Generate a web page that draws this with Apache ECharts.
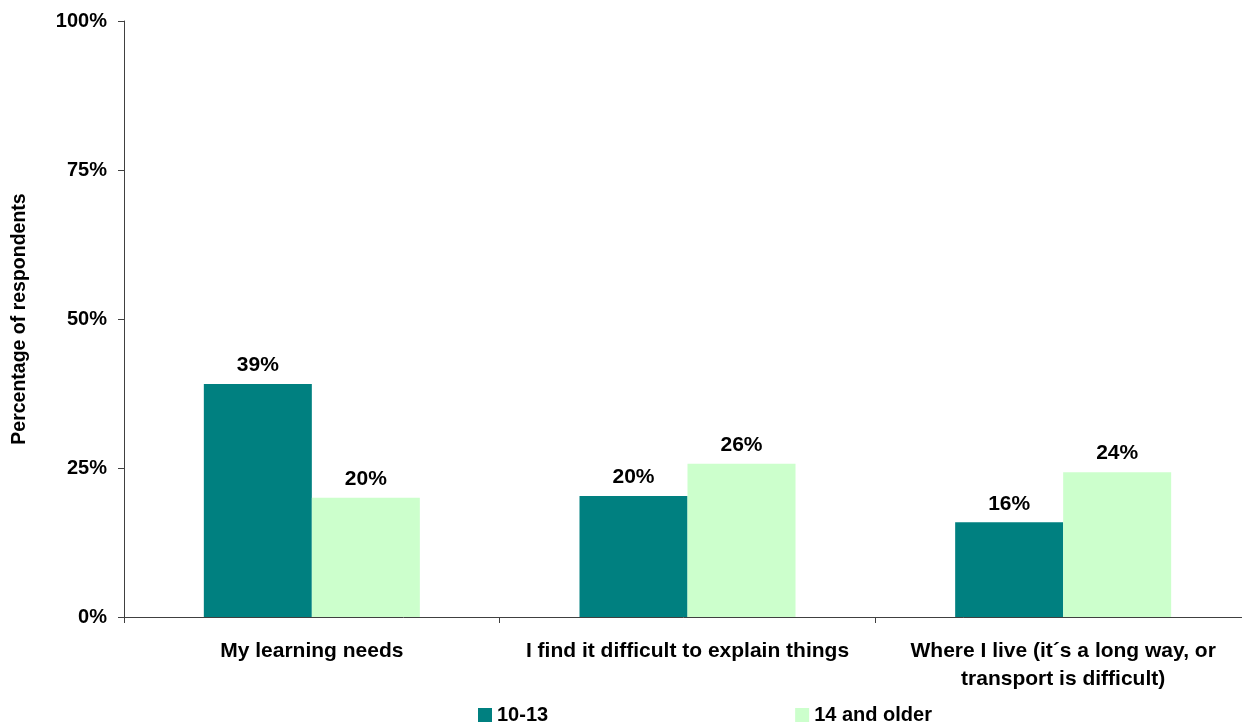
<!DOCTYPE html>
<html>
<head>
<meta charset="utf-8">
<title>Barriers by age group</title>
<script src="https://cdn.jsdelivr.net/npm/echarts@6/dist/echarts.min.js"></script>
<style>
  html, body { margin: 0; padding: 0; background: #fff; }
  #chart { width: 1242px; height: 722px; }
</style>
</head>
<body>
<div id="chart"></div>
<script>
// Survey responses by age group
const categories = [
  'My learning needs',
  'I find it difficult to explain things',
  'Where I live (it\u00b4s a long way, or\ntransport is difficult)'
];
const seriesNames = ['10-13', '14 and older'];
const valuesYoung = [39.1, 20.3, 15.9];
const valuesOlder = [20.0, 25.7, 24.3];
const yTicks = [0, 25, 50, 75, 100];

const FONT = 'Arial, "Liberation Sans", sans-serif';
const AXIS_COLOR = '#404040';

const labelStyle = {
  show: true,
  position: 'top',
  distance: 8,
  color: '#000',
  fontFamily: FONT,
  fontWeight: 'bold',
  fontSize: 21,
  formatter: p => Math.round(p.value) + '%'
};

const chart = echarts.init(document.getElementById('chart'), null, { renderer: 'canvas' });
chart.setOption({
  animation: false,
  backgroundColor: '#fff',
  grid: {
    left: 124,
    top: 21,
    width: 1127,
    height: 596,
    containLabel: false,
    outerBoundsMode: 'none'
  },
  legend: {
    data: seriesNames,
    left: 473,
    top: 698,
    icon: 'rect',
    itemWidth: 14,
    itemHeight: 14,
    itemGap: 247,
    textStyle: {
      color: '#000',
      fontFamily: FONT,
      fontWeight: 'bold',
      fontSize: 20,
      lineHeight: 24
    }
  },
  xAxis: {
    type: 'category',
    data: categories,
    axisLine: { lineStyle: { color: AXIS_COLOR, width: 1 } },
    axisTick: { show: true, length: 6, lineStyle: { color: AXIS_COLOR } },
    axisLabel: {
      interval: 0,
      margin: 20,
      color: '#000',
      fontFamily: FONT,
      fontWeight: 'bold',
      fontSize: 21,
      lineHeight: 28
    },
    splitLine: { show: false }
  },
  yAxis: {
    type: 'value',
    min: yTicks[0],
    max: yTicks[yTicks.length - 1],
    interval: yTicks[1] - yTicks[0],
    name: 'Percentage of respondents',
    nameLocation: 'middle',
    nameGap: 94,
    nameRotate: 90,
    nameTextStyle: {
      color: '#000',
      fontFamily: FONT,
      fontWeight: 'bold',
      fontSize: 19.5
    },
    axisLine: { show: true, lineStyle: { color: AXIS_COLOR, width: 1 } },
    axisTick: { show: true, length: 6, lineStyle: { color: AXIS_COLOR } },
    axisLabel: {
      margin: 17,
      color: '#000',
      fontFamily: FONT,
      fontWeight: 'bold',
      fontSize: 20,
      formatter: v => v + '%'
    },
    splitLine: { show: false }
  },
  series: [
    {
      name: seriesNames[0],
      type: 'bar',
      data: valuesYoung,
      barGap: '0%',
      barCategoryGap: '42.5%',
      itemStyle: { color: '#008080' },
      label: labelStyle
    },
    {
      name: seriesNames[1],
      type: 'bar',
      data: valuesOlder,
      barGap: '0%',
      barCategoryGap: '42.5%',
      itemStyle: { color: '#CCFFCC' },
      label: labelStyle
    }
  ]
});
</script>
</body>
</html>
